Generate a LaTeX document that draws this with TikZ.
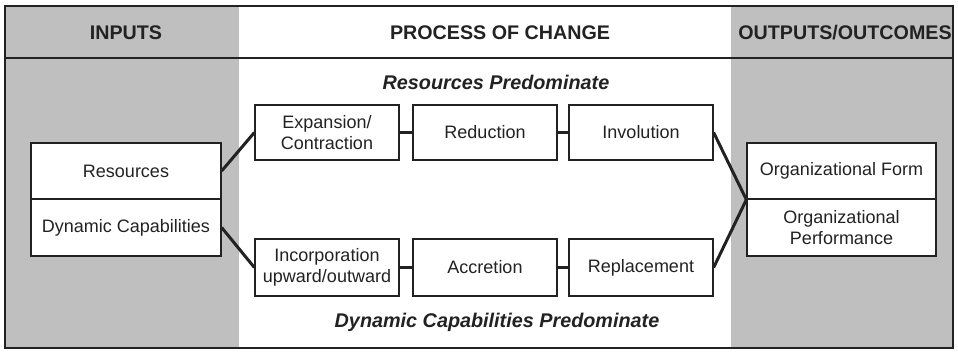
\documentclass[tikz,border=0pt]{standalone}
\usepackage{fontspec}
\setmainfont{Liberation Sans}
\definecolor{panel}{RGB}{191,191,191}
\definecolor{ink}{RGB}{34,34,34}
\begin{document}
\begin{tikzpicture}[x=1pt,y=-1pt,
  every node/.style={text=ink},
  box/.style={draw=ink, line width=1.3pt, fill=white, inner sep=0pt,
    align=center, font=\fontsize{18}{21.5}\selectfont},
  head/.style={font=\fontsize{19.7}{22}\selectfont\bfseries},
  band/.style={font=\fontsize{19.8}{22}\selectfont\bfseries\itshape},
  link/.style={draw=ink, line width=3pt},
  tie/.style={draw=ink, line width=2.6pt}]
  \useasboundingbox (0,0) rectangle (958,351);
  % column backgrounds
  \fill[white] (5,6) rectangle (953,348);
  \fill[panel] (5,6) rectangle (239,348);
  \fill[panel] (731,6) rectangle (953,348);
  % frame and header rule
  \draw[ink, line width=1.8pt] (5,6) rectangle (953,348);
  \draw[ink, line width=1.5pt] (5,58) -- (953,58);
  % column headings
  \node[head] (hin) at (126,33) {INPUTS};
  \node[head] (hproc) at (500,33) {PROCESS OF CHANGE};
  \node[head] (hout) at (845,33) {OUTPUTS/OUTCOMES};
  % band labels
  \node[band] (rp) at (496,82) {Resources Predominate};
  \node[band] (dp) at (497,322) {Dynamic Capabilities Predominate};
  % inputs
  \node[box, minimum width=190pt, minimum height=56pt] (res) at (126,171) {Resources};
  \node[box, minimum width=190pt, minimum height=57pt] (dyn) at (126,227.5) {Dynamic Capabilities};
  % upper path
  \node[box, minimum width=144pt, minimum height=55pt] (exp) at (327,132.5) {Expansion/\\Contraction};
  \node[box, minimum width=144pt, minimum height=55pt] (red) at (485,132.5) {Reduction};
  \node[box, minimum width=144pt, minimum height=55pt] (inv) at (641,132.5) {Involution};
  % lower path
  \node[box, minimum width=144pt, minimum height=57pt] (inc) at (327,267.5) {Incorporation\\upward/outward};
  \node[box, minimum width=144pt, minimum height=57pt] (acc) at (485,267.5) {Accretion};
  \node[box, minimum width=144pt, minimum height=57pt] (rep) at (641,267.5) {Replacement};
  % outputs
  \node[box, minimum width=189pt, minimum height=56pt] (form) at (841.5,171) {Organizational Form};
  \node[box, minimum width=189pt, minimum height=57pt] (perf) at (841.5,227.5) {Organizational\\Performance};
  % connectors
  \draw[tie] (exp.east) -- (red.west);
  \draw[tie] (red.east) -- (inv.west);
  \draw[tie] (inc.east) -- (acc.west);
  \draw[tie] (acc.east) -- (rep.west);
  \draw[link] (res.east) -- (exp.west);
  \draw[link] (dyn.east) -- (inc.west);
  \draw[link] (inv.east) -- (form.south west);
  \draw[link] (rep.east) -- (form.south west);
\end{tikzpicture}
\end{document}
